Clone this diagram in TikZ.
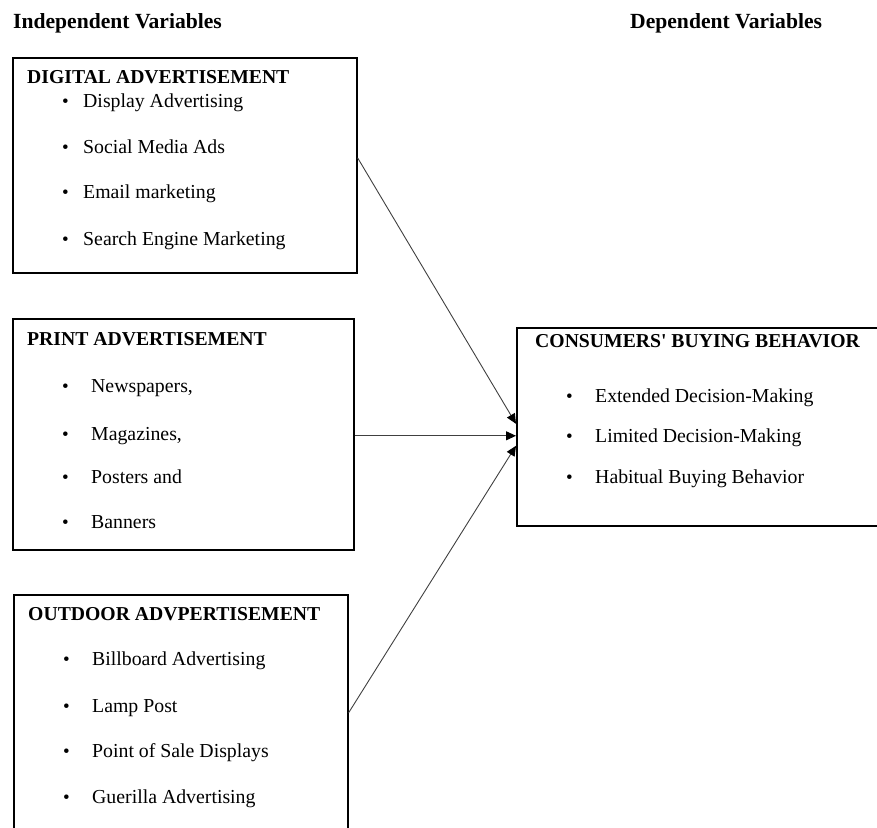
\documentclass[tikz,border=0pt]{standalone}
\usepackage{fontspec}
\setmainfont{Liberation Serif}[Ligatures=TeXOff]
\usetikzlibrary{arrows.meta,positioning}

\tikzset{box/.style={draw, line width=1.6pt, anchor=north west, inner sep=0pt},
  colhd/.style={anchor=base west, inner sep=0pt, font=\bfseries\fontsize{21.6}{25}\selectfont},
  hd/.style={anchor=base west, inner sep=0pt, font=\bfseries\fontsize{19.7}{24}\selectfont},
  itm/.style={anchor=base west, inner sep=0pt, font=\fontsize{19.8}{24}\selectfont},
  dot/.style={anchor=base west, inner sep=0pt, font=\fontsize{19}{22}\selectfont},
  arr/.style={-{Triangle[length=10pt,width=9pt,color=black]}, line width=0.9pt, draw=black!75}}

\begin{document}
\begin{tikzpicture}[x=1pt,y=-1pt]
\useasboundingbox (0,0) rectangle (877,827);
\clip (0,0) rectangle (877,827);

% column titles
\node[colhd] (indep) at (13,28) {Independent Variables};
\node[colhd] (dep) at (630,28) {Dependent Variables};

% boxes
\node[box, minimum width=344pt, minimum height=215pt] (dig) at (12,57) {};
\node[box, minimum width=341pt, minimum height=231pt] (prt) at (12,318) {};
\node[box, minimum width=334pt, minimum height=266pt] (outd) at (13,594) {};
\node[box, minimum width=384pt, minimum height=198pt] (cbb) at (516,327) {};

% digital
\node[hd] (dig-h) at (27,83) {DIGITAL ADVERTISEMENT};
\node[dot] at (62,107) {•};
\node[itm] (dig-1) at (83,107) {Display Advertising};
\node[dot] at (62,153) {•};
\node[itm] (dig-2) at (83,153) {Social Media Ads};
\node[dot] at (62,198) {•};
\node[itm] (dig-3) at (83,198) {Email marketing};
\node[dot] at (62,245) {•};
\node[itm] (dig-4) at (83,245) {Search Engine Marketing};

% print
\node[hd] (prt-h) at (27,345) {PRINT ADVERTISEMENT};
\node[dot] at (62,392) {•};
\node[itm] (prt-1) at (91,392) {Newspapers,};
\node[dot] at (62,440) {•};
\node[itm] (prt-2) at (91,440) {Magazines,};
\node[dot] at (62,483) {•};
\node[itm] (prt-3) at (91,483) {Posters and};
\node[dot] at (62,528) {•};
\node[itm] (prt-4) at (91,528) {Banners};

% outdoor
\node[hd] (outd-h) at (28,620) {OUTDOOR ADVPERTISEMENT};
\node[dot] at (63,665) {•};
\node[itm] (outd-1) at (92,665) {Billboard Advertising};
\node[dot] at (63,712) {•};
\node[itm] (outd-2) at (92,712) {Lamp Post};
\node[dot] at (63,757) {•};
\node[itm] (outd-3) at (92,757) {Point of Sale Displays};
\node[dot] at (63,803) {•};
\node[itm] (outd-4) at (92,803) {Guerilla Advertising};

% consumers
\node[hd] (cbb-h) at (535,347) {CONSUMERS' BUYING BEHAVIOR};
\node[dot] at (566,402) {•};
\node[itm] (cbb-1) at (595,402) {Extended Decision-Making};
\node[dot] at (566,442) {•};
\node[itm] (cbb-2) at (595,442) {Limited Decision-Making};
\node[dot] at (566,483) {•};
\node[itm] (cbb-3) at (595,483) {Habitual Buying Behavior};

% links
\draw[arr] ([yshift=7.5pt]dig.east) -- ([yshift=3pt]cbb.west);
\draw[arr] ([yshift=-1.5pt]prt.east) -- ([yshift=-9pt]cbb.west);
\draw[arr] ([yshift=15pt]outd.east) -- ([yshift=-19pt]cbb.west);

\end{tikzpicture}
\end{document}
